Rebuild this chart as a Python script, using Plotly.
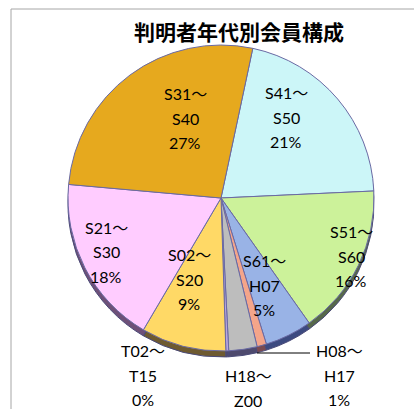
import plotly.graph_objects as go

categories = ["S41〜S50", "S51〜S60", "S61〜H07", "H08〜H17", "H18〜Z00",
              "T02〜T15", "S02〜S20", "S21〜S30", "S31〜S40"]
values = [21, 16, 5, 1, 3, 0.3, 9, 18, 27]
percent_labels = ["21%", "16%", "5%", "1%", "3%", "0%", "9%", "18%", "27%"]

colors = ["#CCF6F8", "#CCF29A", "#99B3E6", "#F4A58A", "#BDBDBD",
          "#B9A6E0", "#FFD966", "#FFCCFF", "#E6A91E"]
rim_colors = ["#56648A", "#56684A", "#3C4A80", "#7A4A50", "#4E4A6E",
              "#4E4A6E", "#6E5A30", "#6E5078", "#6E5418"]

# label centres (pixels from top-left) of the middle text line of each label
label_centers = [(286, 117), (351, 256), (264, 285), (339, 375), (248, 400),
                 (143, 375), (189, 279), (106, 252), (185, 118)]
LINE_GAP = 24.5

W, H = 414, 409
cx, cy, r = 221, 198, 153
dom_x = [(cx - r) / W, (cx + r) / W]
dom_y = [(H - cy - r) / H, (H - cy + r) / H]
drop = 6 / H

fig = go.Figure()
fig.add_trace(go.Pie(
    labels=categories, values=values, sort=False, direction="clockwise",
    rotation=12, marker=dict(colors=rim_colors, line=dict(color="#4A4A78", width=1)),
    textinfo="none", hoverinfo="skip", showlegend=False,
    domain=dict(x=dom_x, y=[dom_y[0] - drop, dom_y[1] - drop]),
))
fig.add_trace(go.Pie(
    labels=categories, values=values, sort=False, direction="clockwise",
    rotation=12,
    marker=dict(colors=colors, line=dict(color="#6A6AA4", width=1)),
    textinfo="none", showlegend=False,
    domain=dict(x=dom_x, y=dom_y),
))

font = dict(family="Lato, 'Noto Sans CJK JP'", size=16, color="#000000")
annotations = []
for cat, pct, (lx, ly) in zip(categories, percent_labels, label_centers):
    a, b = cat.split("〜")
    lines = [a + "〜", b, pct]
    for i, t in enumerate(lines):
        yy = ly + (i - 1) * LINE_GAP
        if yy > H - 4:
            continue  # below the visible frame, as in the reference
        if yy + 9 > H:
            annotations.append(dict(
                text=t, x=lx / W, y=0, xref="paper", yref="paper",
                xanchor="center", yanchor="bottom", showarrow=False,
                borderpad=0, font=font))
        else:
            annotations.append(dict(
                text=t, x=lx / W, y=1 - yy / H, xref="paper", yref="paper",
                xanchor="center", yanchor="middle", showarrow=False,
                borderpad=0, font=font))

fig.update_layout(
    width=W, height=H, margin=dict(l=0, r=0, t=0, b=0),
    paper_bgcolor="white", plot_bgcolor="white",
    title=dict(text="<b>判明者年代別会員構成</b>", x=239 / W, xanchor="center",
               y=1 - 33 / H, yanchor="middle",
               font=dict(family="'Noto Sans CJK JP'", size=21, color="#000000")),
    annotations=annotations,
    shapes=[
        dict(type="line", xref="paper", yref="paper", x0=11 / W, x1=1,
             y0=1 - 9 / H, y1=1 - 9 / H, line=dict(color="#A6A6A6", width=1)),
        dict(type="line", xref="paper", yref="paper", x0=11 / W, x1=11 / W,
             y0=0, y1=1 - 9 / H, line=dict(color="#A6A6A6", width=1)),
        dict(type="line", xref="paper", yref="paper", x0=257 / W, x1=310 / W,
             y0=1 - 353 / H, y1=1 - 353 / H, line=dict(color="#000000", width=1)),
    ],
)

fig.write_html("out.html")
